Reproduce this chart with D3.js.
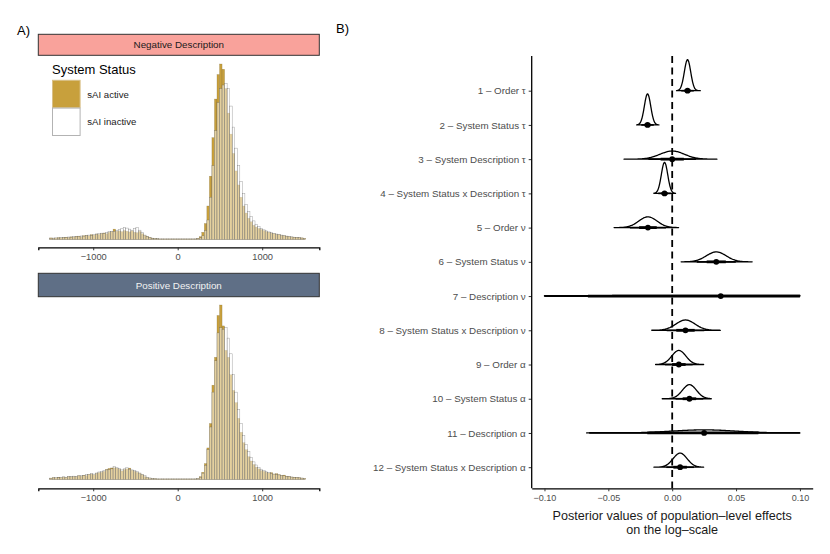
<!DOCTYPE html>
<html>
<head>
<meta charset="utf-8">
<script src="https://cdn.jsdelivr.net/npm/d3@7"></script>
<style>
  body { margin: 0; background: #fff; }
  text { font-family: "Liberation Sans", Arial, sans-serif; }
</style>
</head>
<body>
<div id="chart"></div>
<script>
// ---- panel A data: histogram bin heights (bins of 30 starting at -1515) ----
const binStart = -1515;
const binWidth = 30;
const statusLevels = ['sAI active', 'sAI inactive'];
const facetLabels = ['Negative Description', 'Positive Description'];
const histTicks = [-1000, 0, 1000];

const negActive = [
  0.8,0.6,0.7,0.9,0.8,1.0,1.2,1.1,1.4,1.3,
  1.6,1.8,1.5,2.0,2.2,2.0,2.6,2.4,3.0,2.8,
  3.3,3.6,3.2,4.0,4.3,5.8,4.6,4.8,4.4,5.0,
  4.6,4.2,4.8,4.0,3.8,4.5,3.2,2.2,1.6,1.0,
  0.7,0.4,0.3,0.2,0.2,0.2,0.2,0.2,0.2,0.2,
  0.2,0.2,0.2,0.2,0.2,0.2,0.2,0.2,0.5,1.5,
  4,9,19,36,58,80,94,100,97,86,
  72,60,49,39,31,24,19,15,12,10,
  8,7,6.2,5.6,5.0,4.4,4.0,3.5,3.2,2.8,
  2.6,2.2,2.0,1.8,1.5,1.3,1.2,1.0,0.9,0.8,
  0.6
];
const negInactive = [
  0.6,0.7,0.8,0.7,0.9,1.0,1.0,1.3,1.2,1.5,
  1.4,1.7,1.9,1.8,2.2,2.4,2.3,2.8,3.0,3.2,
  3.5,3.4,3.9,4.3,4.6,4.5,5.0,5.6,6.0,6.6,
  6.4,5.8,5.2,6.2,6.6,5.2,3.8,2.4,1.5,0.9,
  0.6,0.4,0.3,0.2,0.2,0.2,0.2,0.2,0.2,0.2,
  0.2,0.2,0.2,0.2,0.2,0.2,0.2,0.2,0.3,0.8,
  2,5,11,24,42,62,78,86,88,89,
  86,76,64,52,42,33,26,20,16,13,
  10.5,8.6,7.2,6.2,5.4,4.8,4.2,3.8,3.4,3.0,
  2.7,2.4,2.1,1.8,1.6,1.4,1.2,1.0,0.9,0.7,
  0.6
];
const posActive = [
  0.7,0.9,0.8,1.2,1.0,1.3,1.1,1.5,1.4,1.6,
  1.5,2.0,1.8,2.3,2.1,2.7,3.0,2.6,3.4,3.8,
  4.0,4.6,5.6,6.2,6.5,6.6,6.4,5.8,4.8,5.6,
  6.0,6.4,5.2,4.6,4.0,3.4,2.6,1.6,1.0,0.6,
  0.4,0.3,0.2,0.2,0.2,0.2,0.2,0.2,0.2,0.2,
  0.2,0.2,0.2,0.2,0.2,0.2,0.2,0.2,0.4,1.5,
  4,9,18,32,54,70,94,100,88,74,
  70,60,51,44,35,27,21,17,13,10.5,
  8.5,7.0,6.0,5.0,4.6,4.0,3.6,3.8,3.0,3.2,
  2.6,2.2,2.4,1.8,1.6,1.3,1.2,1.0,0.9,0.7,
  0.5
];
const posInactive = [
  0.6,0.8,1.0,0.9,1.2,1.4,1.2,1.6,1.5,1.8,
  1.7,2.0,2.2,2.1,2.6,2.8,3.2,3.0,3.6,4.2,
  4.4,5.0,5.4,5.6,6.0,7.2,6.6,6.2,5.4,6.0,
  6.6,5.8,5.4,5.0,4.4,3.6,2.8,2.2,1.2,0.8,
  0.5,0.3,0.2,0.2,0.2,0.2,0.2,0.2,0.2,0.2,
  0.2,0.2,0.2,0.2,0.2,0.2,0.2,0.2,0.4,1.2,
  3.5,8,17,30,50,68,84,87,86,87,
  81,72,60,50,40,32,25,20,16,12.5,
  10,8.2,6.8,5.8,4.9,4.3,3.8,3.4,3.0,2.8,
  2.5,2.2,2.0,1.7,1.5,1.3,1.1,0.9,0.8,0.7,
  0.5
];

// ---- panel B data: posterior summaries ----
const effectLabels = [
  '1 \u2013 Order \u03c4',
  '2 \u2013 System Status \u03c4',
  '3 \u2013 System Description \u03c4',
  '4 \u2013 System Status x Description \u03c4',
  '5 \u2013 Order \u03bd',
  '6 \u2013 System Status \u03bd',
  '7 \u2013 Description \u03bd',
  '8 \u2013 System Status x Description \u03bd',
  '9 \u2013 Order \u03b1',
  '10 \u2013 System Status \u03b1',
  '11 \u2013 Description \u03b1',
  '12 \u2013 System Status x Description \u03b1'
];
const medians = [0.012, -0.0193, 0.0, -0.006, -0.019, 0.0345, 0.038, 0.0104, 0.0052, 0.0135, 0.025, 0.0062];
const sds     = [0.0025, 0.0025, 0.0095, 0.0025, 0.0072, 0.0078, 0.1, 0.0075, 0.0055, 0.0055, 0.025, 0.0055];
const slabLo  = [0.0034, -0.0278, -0.0377, -0.0143, -0.0455, 0.007, -0.1, -0.016, -0.013, -0.0078, -0.067, -0.0143];
const slabHi  = [0.022, -0.0104, 0.035, 0.0026, 0.005, 0.0626, 0.1, 0.0377, 0.0246, 0.0306, 0.1, 0.0246];
const thickLo = [0.0096, -0.0217, -0.0091, -0.0084, -0.0259, 0.027, -0.066, 0.0032, -0.0001, 0.0082, -0.0195, 0.0009];
const thickHi = [0.0144, -0.0169, 0.0091, -0.0036, -0.0121, 0.042, 0.1, 0.0176, 0.0105, 0.0188, 0.0675, 0.0115];
const thinLo  = [0.0071, -0.0242, -0.0186, -0.0109, -0.0331, 0.0192, -0.1, -0.0043, -0.0056, 0.0027, -0.065, -0.0046];
const thinHi  = [0.0169, -0.0144, 0.0186, -0.0011, -0.0049, 0.0498, 0.1, 0.0251, 0.016, 0.0243, 0.1, 0.017];
const effectTicks = [-0.10, -0.05, 0.00, 0.05, 0.10];

const width = 830;
const height = 554;
const fontFam = '"Liberation Sans", Arial, sans-serif';

const svg = d3.select('#chart').append('svg')
    .attr('width', width)
    .attr('height', height);

svg.append('rect').attr('width', width).attr('height', height).attr('fill', '#fff');

// panel letters
svg.append('text').attr('x', 17).attr('y', 34.5).attr('font-size', 13).text('A)');
svg.append('text').attr('x', 336).attr('y', 33).attr('font-size', 13).text('B)');

// ================= panel A =================
const left = 38.3, right = 319.3;
const xHist = d3.scaleLinear().domain([-1650, 1676]).range([left, right]);

const panels = [
  { label: facetLabels[0], strip: [34.3, 55.3], stripFill: '#F9A29B', textFill: '#1a1a1a',
    base: 239.3, top: 64, axisY: 247.3, active: negActive, inactive: negInactive },
  { label: facetLabels[1], strip: [273.3, 296.7], stripFill: '#5F6F86', textFill: '#f2f2f2',
    base: 479.3, top: 305, axisY: 488.3, active: posActive, inactive: posInactive }
];

const activeFill = '#C8A03C';

panels.forEach(function(p) {
    const g = svg.append('g');
    const yHist = d3.scaleLinear()
        .domain([0, d3.max(p.active.concat(p.inactive))])
        .range([p.base, p.top]);

    // strip
    g.append('rect')
        .attr('x', left).attr('y', p.strip[0])
        .attr('width', right - left).attr('height', p.strip[1] - p.strip[0])
        .attr('fill', p.stripFill)
        .attr('stroke', '#333').attr('stroke-width', 1);
    g.append('text')
        .attr('x', (left + right) / 2).attr('y', (p.strip[0] + p.strip[1]) / 2 + 3.5)
        .attr('text-anchor', 'middle').attr('font-size', 9.8)
        .attr('fill', p.textFill)
        .text(p.label);

    const bw = xHist(binWidth) - xHist(0);

    // active (drawn first)
    g.selectAll('.act')
        .data(p.active)
        .enter().append('rect')
        .attr('class', 'act')
        .attr('x', (d, i) => xHist(binStart + i * binWidth))
        .attr('width', bw)
        .attr('y', d => yHist(d))
        .attr('height', d => p.base - yHist(d))
        .attr('fill', activeFill)
        .attr('stroke', '#6b5a2e').attr('stroke-opacity', 0.5)
        .attr('stroke-width', 0.4);

    // inactive on top, translucent white
    g.selectAll('.inact')
        .data(p.inactive)
        .enter().append('rect')
        .attr('class', 'inact')
        .attr('x', (d, i) => xHist(binStart + i * binWidth))
        .attr('width', bw)
        .attr('y', d => yHist(d))
        .attr('height', d => p.base - yHist(d))
        .attr('fill', '#fff').attr('fill-opacity', 0.5)
        .attr('stroke', '#555').attr('stroke-opacity', 0.6)
        .attr('stroke-width', 0.45);

    // x axis
    const ax = g.append('g')
        .attr('transform', 'translate(0,' + p.axisY + ')')
        .call(d3.axisBottom(xHist).tickValues(histTicks)
            .tickFormat(d3.format('d')).tickSizeOuter(0).tickSize(3).tickPadding(3));
    ax.select('.domain').attr('stroke', '#000').attr('stroke-width', 1.3);
    ax.selectAll('.tick line').attr('stroke', '#333');
    ax.selectAll('.tick text').attr('font-size', 9.3).attr('fill', '#4d4d4d')
        .attr('font-family', fontFam);
});

// legend
const leg = svg.append('g');
leg.append('text').attr('x', 52).attr('y', 73.5).attr('font-size', 13).text('System Status');
const keyFills = [activeFill, '#fff'];
const keyStroke = ['#D9C088', '#B3B3B3'];
statusLevels.forEach(function(s, i) {
    leg.append('rect')
        .attr('x', 52.5).attr('y', 80.3 + i * 27.8)
        .attr('width', 27.6).attr('height', 27.4)
        .attr('fill', keyFills[i])
        .attr('stroke', keyStroke[i]).attr('stroke-width', 1);
    leg.append('text')
        .attr('x', 87.3).attr('y', 97.5 + i * 27.6)
        .attr('font-size', 9.6).attr('fill', '#1a1a1a')
        .text(s);
});

// ================= panel B =================
const xB = d3.scaleLinear().domain([-0.11, 0.11]).range([531.7, 812.7]);
const yB = d3.scalePoint().domain(effectLabels).range([90.7, 467.2]);
const panelTop = 56, panelBottom = 488.3;

const gB = svg.append('g');

// zero reference line
gB.append('line')
    .attr('x1', xB(0)).attr('x2', xB(0))
    .attr('y1', panelTop).attr('y2', panelBottom)
    .attr('stroke', '#000').attr('stroke-width', 1.8)
    .attr('stroke-dasharray', '7,4.5');

// density heights on a shared scale (equal areas)
const pdf = (v, m, s) => Math.exp(-0.5 * ((v - m) / s) ** 2) / (s * Math.sqrt(2 * Math.PI));
const hScale = d3.scaleLinear()
    .domain([0, d3.max(sds, s => 1 / (s * Math.sqrt(2 * Math.PI)))])
    .range([0, 31]);

effectLabels.forEach(function(lab, i) {
    const y0 = yB(lab);
    const lo = Math.max(slabLo[i], -0.1), hi = Math.min(slabHi[i], 0.1);
    const pts = d3.range(0, 121).map(k => lo + (hi - lo) * k / 120);
    const area = d3.area()
        .x(v => xB(v))
        .y0(y0)
        .y1(v => y0 - hScale(pdf(v, medians[i], sds[i])))
        .curve(d3.curveBasis);
    gB.append('path')
        .datum(pts)
        .attr('d', area)
        .attr('fill', 'none')
        .attr('stroke', '#000').attr('stroke-width', 1.3)
        .attr('stroke-linejoin', 'round');

    // 95% interval
    gB.append('line')
        .attr('x1', xB(thinLo[i])).attr('x2', xB(thinHi[i]))
        .attr('y1', y0).attr('y2', y0)
        .attr('stroke', '#000').attr('stroke-width', 1.7);
    // 66% interval
    gB.append('line')
        .attr('x1', xB(thickLo[i])).attr('x2', xB(thickHi[i]))
        .attr('y1', y0).attr('y2', y0)
        .attr('stroke', '#000').attr('stroke-width', 2.8);
    // median
    gB.append('circle')
        .attr('cx', xB(medians[i])).attr('cy', y0)
        .attr('r', 2.9).attr('fill', '#000');
});

// axes
const axL = gB.append('g')
    .attr('transform', 'translate(' + xB.range()[0] + ',0)')
    .call(d3.axisLeft(yB).tickSize(3).tickSizeOuter(0).tickPadding(3));
axL.select('.domain').remove();
axL.selectAll('.tick line').attr('stroke', '#333');
axL.selectAll('.tick text').attr('font-size', 9.8).attr('fill', '#4d4d4d')
    .attr('font-family', fontFam);
gB.append('line')
    .attr('x1', xB.range()[0]).attr('x2', xB.range()[0])
    .attr('y1', panelTop).attr('y2', panelBottom)
    .attr('stroke', '#000').attr('stroke-width', 1.3);

const axB = gB.append('g')
    .attr('transform', 'translate(0,' + panelBottom + ')')
    .call(d3.axisBottom(xB).tickValues(effectTicks).tickFormat(d3.format('.2f'))
        .tickSize(3).tickSizeOuter(0).tickPadding(3));
axB.select('.domain').attr('stroke', '#000').attr('stroke-width', 1.3);
axB.selectAll('.tick line').attr('stroke', '#333');
axB.selectAll('.tick text').attr('font-size', 9).attr('fill', '#4d4d4d')
    .attr('font-family', fontFam);

// axis title, two lines
const cx = (xB.range()[0] + xB.range()[1]) / 2;
const titleLines = ['Posterior values of population\u2013level effects', 'on the log\u2013scale'];
titleLines.forEach(function(t, i) {
    gB.append('text')
        .attr('x', cx).attr('y', 519.8 + i * 14.2)
        .attr('text-anchor', 'middle')
        .attr('font-size', 12.6)
        .attr('fill', '#1a1a1a')
        .text(t);
});
</script>
</body>
</html>
